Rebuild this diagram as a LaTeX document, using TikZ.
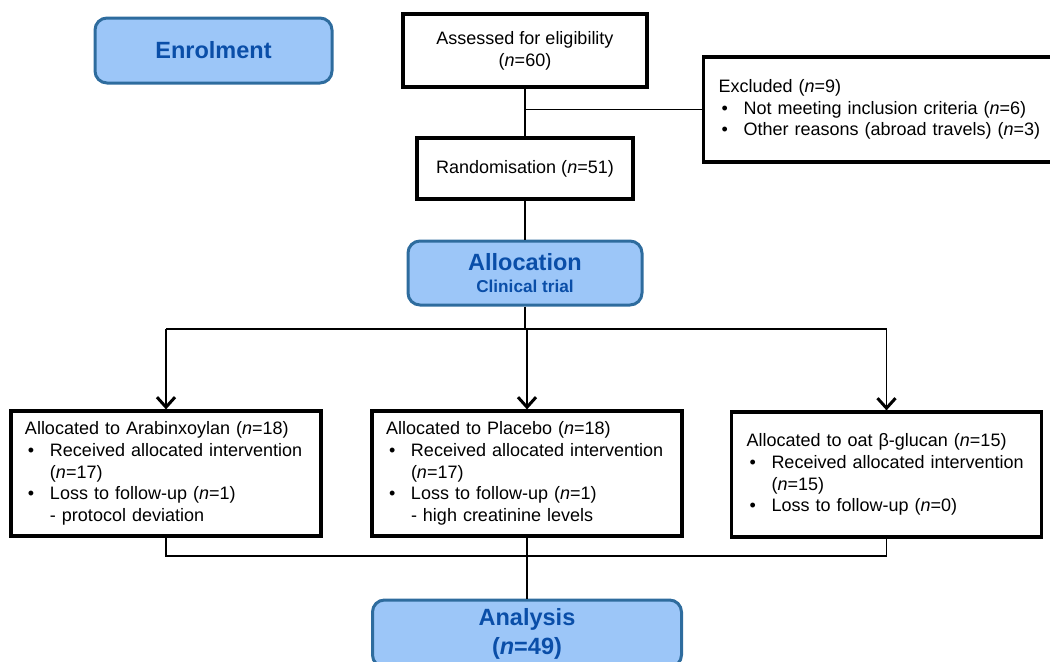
\documentclass[tikz,border=0pt]{standalone}
\usepackage{fontspec}
\setmainfont{Liberation Sans}
\usetikzlibrary{positioning,arrows.meta}

\definecolor{phasefill}{RGB}{156,198,248}
\definecolor{phaseline}{RGB}{46,108,158}
\definecolor{phasetext}{RGB}{10,78,168}

\setlength{\parindent}{0pt}
\newcommand{\nn}[1]{(\textit{n}=#1)}
\newcommand{\bitem}{\par\makebox[12.5pt][l]{\hspace{1.5pt}•}}
\newcommand{\bcont}{\par\hspace*{12.5pt}}
\newcommand{\bigtext}{\fontsize{11.75}{14}\selectfont}

\begin{document}
\begin{tikzpicture}[x=0.5pt, y=-0.5pt,
    phase/.style={draw=phaseline, line width=1.5pt, fill=phasefill, rounded corners=6pt,
        text=phasetext, font=\bfseries, align=center, inner sep=0pt},
    flowbox/.style={draw, line width=1.6pt, fill=white, inner xsep=7pt, inner ysep=0pt,
        font=\fontsize{9}{10.9}\selectfont},
    link/.style={line width=0.75pt},
    arrow/.style={link, -{Straight Barb[length=5pt, width=9pt, line width=1.5pt]}}]

    \useasboundingbox (0,0) rectangle (1050,661);
    \clip (0,0) rectangle (1050,661);

    % Phases
    \node[phase, minimum width=118.5pt, minimum height=32.5pt] at (213.5,50.5) (enrol) {\bigtext Enrolment};
    \node[phase, minimum width=117pt, minimum height=32pt] at (525,273) (alloc)
        {{\bigtext Allocation}\\[-1pt]{\fontsize{8.6}{10}\selectfont Clinical trial}};
    \node[phase, minimum width=154.5pt, minimum height=33.5pt] at (527,633.5) (analysis)
        {{\bigtext Analysis}\\[2.5pt]{\bigtext\nn{49}}};

    % Boxes
    \node[flowbox, align=center, minimum width=122pt, minimum height=36.5pt] at (525,50.5) (assess)
        {Assessed for eligibility\\\nn{60}};
    \node[flowbox, align=left, text width=169pt, inner xsep=7.5pt, minimum height=52.5pt, anchor=west] at (702,109.5) (excl)
        {Excluded \nn{9}\bitem Not meeting inclusion criteria \nn{6}\bitem Other reasons (abroad travels) \nn{3}};
    \node[flowbox, minimum width=108pt, minimum height=30.5pt] at (525,168.5) (rand) {Randomisation \nn{51}};

    \node[flowbox, align=left, text width=141pt, minimum height=62.5pt] at (166,473.5) (arab)
        {Allocated to Arabinxoylan \nn{18}\bitem Received allocated intervention\bcont\nn{17}%
         \bitem Loss to follow-up \nn{1}\bcont- protocol deviation};
    \node[flowbox, align=left, text width=141pt, minimum height=62.5pt] at (527,473.5) (placebo)
        {Allocated to Placebo \nn{18}\bitem Received allocated intervention\bcont\nn{17}%
         \bitem Loss to follow-up \nn{1}\bcont- high creatinine levels};
    \node[flowbox, align=left, text width=140pt, inner xsep=7.5pt, minimum height=62.5pt] at (886.5,474.5) (glucan)
        {Allocated to oat β-glucan \nn{15}\bitem Received allocated intervention\bcont\nn{15}%
         \bitem Loss to follow-up \nn{0}};

    % Connectors
    \coordinate (split) at (assess.south |- excl.west);
    \coordinate (fork) at (525,329);
    \coordinate (join) at (525,556);
    \draw[link] (assess.south) -- (rand.north);
    \draw[link] (split) -- (excl.west);
    \draw[link] (rand.south) -- (alloc.north);
    \draw[link] (alloc.south) -- (fork);
    \draw[link] (arab.north |- fork) -- (glucan.north |- fork);
    \foreach \arm in {arab, placebo, glucan}
        \draw[arrow] (\arm.north |- fork) -- (\arm.north);
    \draw[link] (arab.south) -- (arab.south |- join) -- (glucan.south |- join) -- (glucan.south);
    \draw[link] (placebo.south) -- (analysis.north);

\end{tikzpicture}
\end{document}
